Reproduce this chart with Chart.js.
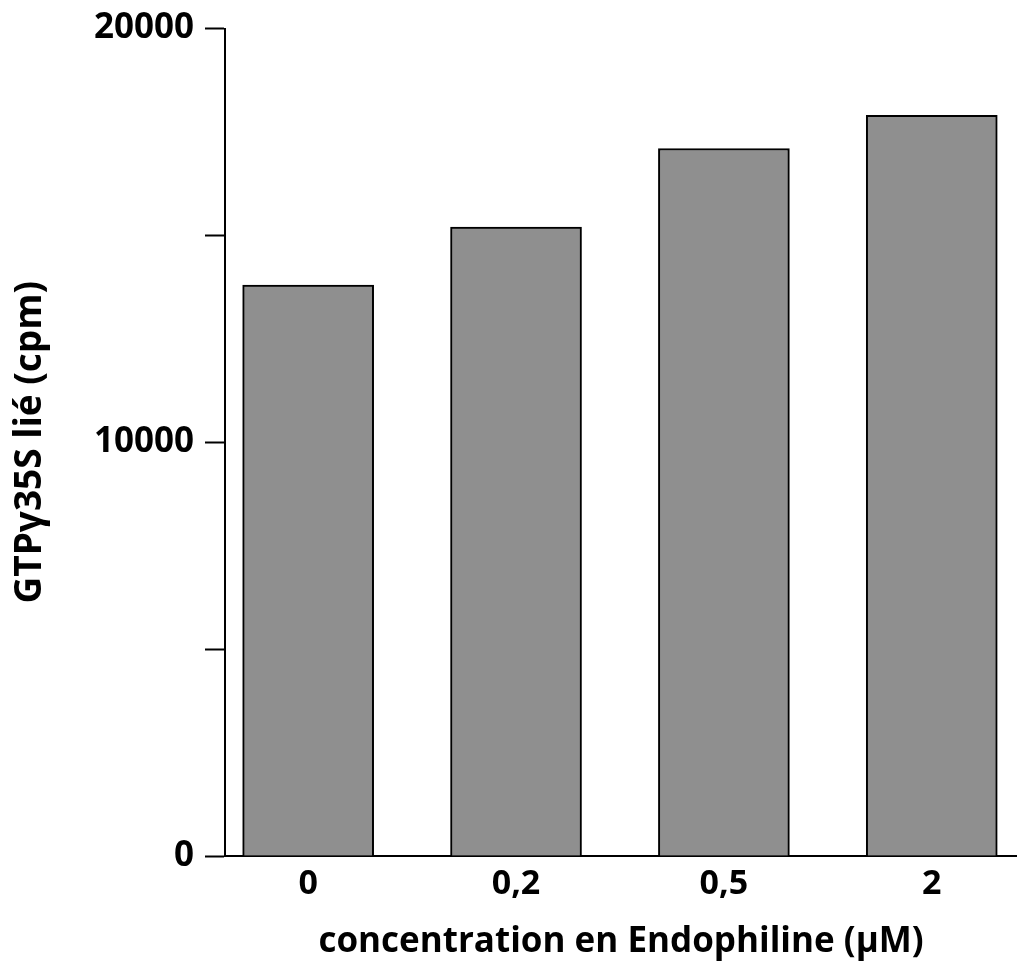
<!DOCTYPE html>
<html>
<head>
<meta charset="utf-8">
<script src="https://cdn.jsdelivr.net/npm/chart.js@4"></script>
<style>
  html, body { margin: 0; padding: 0; background: #fff; }
  canvas { display: block; }
</style>
</head>
<body>
<canvas id="bindingChart" width="1017" height="963"></canvas>
<script>
const categories = ["0", "0,2", "0,5", "2"];
const boundValues = [13800, 15200, 17100, 17900];
const yTickLabels = { 0: "0", 10000: "10000", 20000: "20000" };

const FONT = "'Open Sans', 'DejaVu Sans', sans-serif";

const ctx = document.getElementById("bindingChart").getContext("2d");

const bindingChart = new Chart(ctx, {
  type: "bar",
  data: {
    datasets: [
      {
        label: "GTPγ35S lié",
        data: boundValues.map((v, i) => ({ x: i, y: v })),
        backgroundColor: "#8f8f8f",
        borderColor: "#000000",
        borderWidth: 2,
        borderSkipped: "bottom",
        barThickness: 131,
      },
    ],
  },
  options: {
    responsive: false,
    animation: false,
    layout: {
      padding: { top: 28, right: 0, bottom: 0, left: 0 },
    },
    scales: {
      x: {
        type: "linear",
        offset: false,
        min: -0.4,
        max: 3.41,
        afterBuildTicks: (axis) => {
          axis.ticks = categories.map((c, i) => ({ value: i }));
        },
        afterFit: (axis) => {
          axis.height = 107;
        },
        grid: { display: false },
        border: { display: true, color: "#000", width: 2 },
        ticks: {
          color: "#000",
          padding: 0,
          maxRotation: 0,
          font: { family: FONT, size: 34, weight: "bold" },
          callback: (value) => categories[value],
        },
        title: {
          display: true,
          text: "concentration en Endophiline (µM)",
          color: "#000",
          padding: { top: 0, bottom: 0 },
          font: { family: FONT, size: 35, weight: "bold" },
        },
      },
      y: {
        min: 0,
        max: 20000,
        afterFit: (axis) => {
          axis.width = 225;
        },
        grid: {
          display: true,
          drawOnChartArea: false,
          drawTicks: true,
          tickLength: 20,
          tickColor: "#000",
          tickWidth: 2,
        },
        border: { display: true, color: "#000", width: 2 },
        ticks: {
          stepSize: 5000,
          color: "#000",
          padding: 11,
          font: { family: FONT, size: 35, weight: "bold", lineHeight: 1 },
          callback: (value) => (value in yTickLabels ? yTickLabels[value] : ""),
        },
        title: {
          display: true,
          text: "GTPγ35S lié (cpm)",
          color: "#000",
          padding: { top: 8, bottom: 0 },
          font: { family: FONT, size: 37, weight: "bold" },
        },
      },
    },
    plugins: {
      legend: { display: false },
      tooltip: { enabled: false },
    },
  },
});
</script>
</body>
</html>
